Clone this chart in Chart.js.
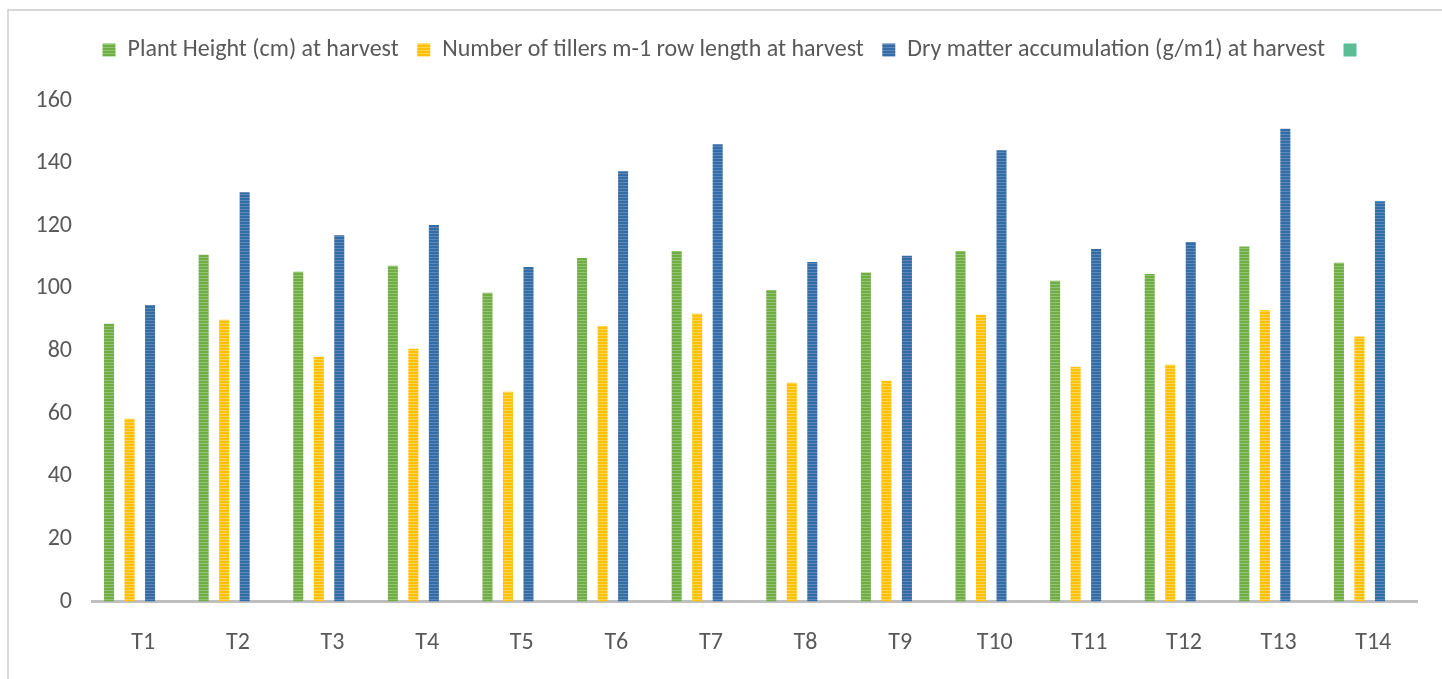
<!DOCTYPE html>
<html>
<head>
<meta charset="utf-8">
<script src="https://cdn.jsdelivr.net/npm/chart.js@4.4.1/dist/chart.umd.min.js"></script>
<style>
  html, body { margin: 0; padding: 0; background: #ffffff; overflow: hidden; }
  #wrap { position: relative; width: 1442px; height: 679px; }
  #frame { position: absolute; left: 7px; top: 9px; width: 1460px; height: 700px;
           border-left: 2px solid #d9d9d9; border-top: 2px solid #d9d9d9; box-sizing: border-box; }
  canvas { position: absolute; left: 0; top: 0; }
</style>
</head>
<body>
<div id="wrap">
  <div id="frame"></div>
  <canvas id="c" width="1442" height="679"></canvas>
</div>
<script>
// ---- data ----
const categories = ["T1","T2","T3","T4","T5","T6","T7","T8","T9","T10","T11","T12","T13","T14"];
const plantHeight = [88.7, 110.7, 105.3, 107.2, 98.6, 109.7, 111.9, 99.5, 105.1, 111.9, 102.4, 104.6, 113.4, 108.2];
const tillers     = [58.4, 90.0, 78.2, 80.7, 67.0, 88.0, 91.9, 69.9, 70.5, 91.6, 75.0, 75.6, 93.0, 84.6];
const dryMatter   = [94.7, 130.7, 117.0, 120.2, 106.8, 137.4, 146.0, 108.4, 110.4, 144.1, 112.6, 114.8, 151.0, 127.8];
const emptySeries = [null, null, null, null, null, null, null, null, null, null, null, null, null, null];
const seriesLabels = ["Plant Height (cm) at harvest", "Number of tillers m-1 row length at harvest", "Dry matter accumulation (g/m1) at harvest", ""];
const yMin = 0, yMax = 160, yStep = 20;

// ---- styles ----
function stripes(base, light) {
  const c = document.createElement('canvas');
  c.width = 1; c.height = 3;
  const g = c.getContext('2d');
  g.fillStyle = base; g.fillRect(0, 0, 1, 3);
  g.fillStyle = light; g.fillRect(0, 2, 1, 1);
  return document.getElementById('c').getContext('2d').createPattern(c, 'repeat');
}
const FONT = 'Carlito, "Liberation Sans", sans-serif';
const TEXT = '#595959';

const spacer = {
  id: 'legendSpacer',
  beforeInit(chart) {
    const lg = chart.legend;
    const fit = lg.fit;
    lg.fit = function () { fit.call(this); this.height += 28.5; };
    const draw = lg.draw;
    lg.draw = function () {
      const ctx = this.ctx; ctx.save(); ctx.translate(12, 0); draw.call(this); ctx.restore();
    };
  }
};

new Chart(document.getElementById('c'), {
  type: 'bar',
  data: {
    labels: categories,
    datasets: [
      { label: seriesLabels[0], data: plantHeight, backgroundColor: stripes('#70ad47', '#93c46f'), borderWidth: 0 },
      { label: seriesLabels[1], data: tillers,     backgroundColor: stripes('#ffc000', '#ffd450'), borderWidth: 0 },
      { label: seriesLabels[2], data: dryMatter,   backgroundColor: stripes('#346ca6', '#5d89ba'), borderWidth: 0 },
      { label: seriesLabels[3], data: emptySeries, backgroundColor: '#5bbd96', borderWidth: 0 }
    ]
  },
  options: {
    responsive: false,
    animation: false,
    devicePixelRatio: 1,
    layout: { padding: { left: 30, right: 25, top: 19.5, bottom: 0 } },
    datasets: { bar: { categoryPercentage: 0.867, barPercentage: 0.49 } },
    plugins: {
      tooltip: { enabled: false },
      legend: {
        position: 'top',
        labels: { boxWidth: 13, boxHeight: 13, padding: 18.5, color: TEXT, font: { family: FONT, size: 24 } }
      }
    },
    scales: {
      x: {
        afterFit(s) { s.height = 77.5; },
        grid: { display: false, drawTicks: false },
        border: { display: true, color: '#bfbfbf', width: 3 },
        ticks: { color: TEXT, font: { family: FONT, size: 24 }, padding: 27.5, labelOffset: 3.5, maxRotation: 0 }
      },
      y: {
        min: yMin, max: yMax,
        afterFit(s) { s.width = 62.5; },
        grid: { display: false, drawTicks: false },
        border: { display: false },
        ticks: { stepSize: yStep, color: TEXT, font: { family: FONT, size: 24 }, padding: 20.5 }
      }
    }
  },
  plugins: [spacer]
});
</script>
</body>
</html>
